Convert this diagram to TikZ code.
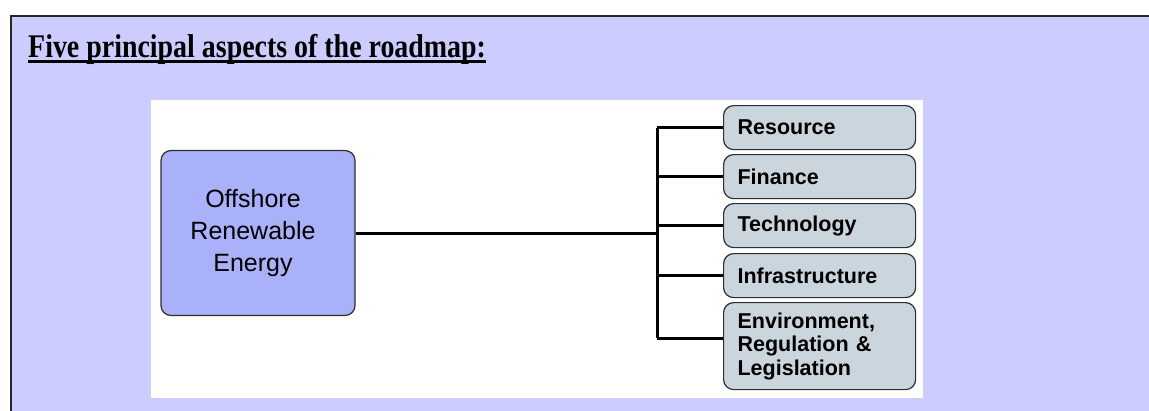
\documentclass[tikz,border=0pt]{standalone}
\usepackage{fontspec}
\setmainfont{Liberation Serif}
\newfontfamily\arialfont{Liberation Sans}
\usetikzlibrary{positioning}

\definecolor{lavender}{HTML}{CCCCFF}
\definecolor{orefill}{HTML}{A8B1F9}
\definecolor{aspectfill}{HTML}{CAD5DE}
\definecolor{boxline}{HTML}{2E2E2E}

\tikzset{
  frame/.style={draw=black!85, line width=2pt, fill=lavender},
  panel/.style={fill=white},
  mainbox/.style={draw=boxline, line width=1.2pt, fill=orefill, rounded corners=10pt,
    minimum width=194pt, minimum height=165pt, align=center,
    font=\arialfont\fontsize{25}{32}\selectfont},
  aspectbox/.style={draw=boxline, line width=1.2pt, fill=aspectfill, rounded corners=10pt,
    anchor=north west, text width=164pt, inner xsep=14pt, inner ysep=0pt, align=left,
    font=\arialfont\bfseries\fontsize{21.5}{23.5}\selectfont},
  link/.style={line width=3pt, black},
}
\newcommand{\aspect}[4]{ \node[aspectbox, minimum height=#3pt] (#1) at (723,#2) {#4};}

\begin{document}
\begin{tikzpicture}[x=1pt,y=-1pt]
        \useasboundingbox (0,0) rectangle (1149,410);
        \fill[white] (0,0) rectangle (1149,410);
        \draw[frame] (11,16) rectangle (1175,430);

        % heading
        \node[anchor=base west, inner sep=0pt, font=\bfseries\fontsize{33}{36}\selectfont] (title) at (28,57)
            {\scalebox{0.846}[1]{Five principal aspects of the roadmap:}};
        \draw[line width=3pt] ([yshift=-4pt]title.base west) -- ([yshift=-4pt]title.base east);

        \fill[panel] (151,100) rectangle (923,398);

        % left box
        \node[mainbox] (ore) at (258,233) {\hspace*{-10pt}Offshore\\\hspace*{-10pt}Renewable\\\hspace*{-10pt}Energy};

        % right boxes
        \aspect{res}{105}{44}{Resource}
        \aspect{fin}{154}{44}{Finance}
        \aspect{tec}{203}{44}{Technology}
        \aspect{inf}{253}{44}{Infrastructure}
        \aspect{env}{302}{87}{Environment,\\Regulation \&\\Legislation}

        % connectors
        \coordinate (bus) at (657,0);
        \coordinate (envin) at ([yshift=8pt]env.west);
        \draw[link] (ore.east) -- (bus |- ore.east);
        \draw[link] (bus |- res.west) -- (bus |- envin);
        \foreach \a in {res,fin,tec,inf}
            \draw[link] (bus |- \a.west) -- (\a.west);
        \draw[link] (bus |- envin) -- (envin);
    \end{tikzpicture}
\end{document}
